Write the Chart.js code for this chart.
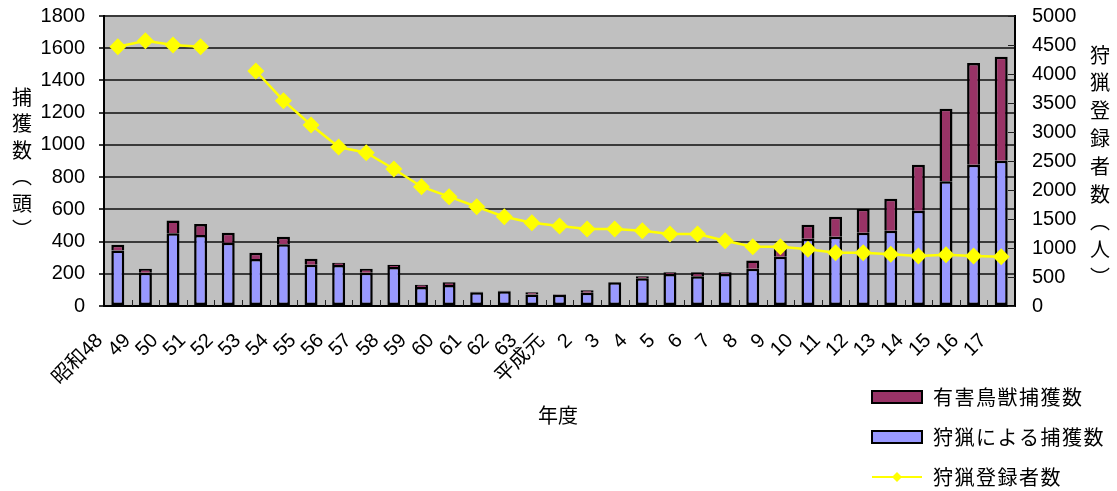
<!DOCTYPE html>
<html>
<head>
<meta charset="utf-8">
<script src="https://cdn.jsdelivr.net/npm/chart.js@4/dist/chart.umd.min.js"></script>
<style>
  html, body { margin: 0; padding: 0; background: #fff; }
  canvas { display: block; }
</style>
</head>
<body>
<canvas id="c" width="1117" height="491"></canvas>
<script>
// 年度
const years = ['昭和48','49','50','51','52','53','54','55','56','57','58','59','60','61','62','63',
  '平成元','2','3','4','5','6','7','8','9','10','11','12','13','14','15','16','17'];

// 狩猟による捕獲数（頭）
const huntingCatch = [345,207,451,440,393,292,383,256,255,207,242,118,130,85,92,72,
  70,82,147,172,198,185,198,231,306,418,430,455,467,591,775,877,901];

// 有害鳥獣捕獲数（頭）
const pestCatch = [35,24,80,69,62,39,47,37,14,24,14,14,17,3,3,13,
  3,15,0,12,11,25,11,52,50,87,124,149,199,286,449,632,646];

// 狩猟登録者数（人）
const registeredHunters = [4471,4574,4500,4471,null,4052,3540,3121,2741,2643,2362,2057,1885,1712,1540,1437,
  1379,1328,1328,1298,1241,1241,1126,1022,1022,978,919,919,891,862,884,862,850];

// 軸の範囲
const catchAxis = { min: 0, max: 1800, step: 200 };
const hunterAxis = { min: 0, max: 5000, step: 500 };

const legendItems = ['有害鳥獣捕獲数', '狩猟による捕獲数', '狩猟登録者数'];
const leftTitle = '捕獲数︵頭︶';
const rightTitle = '狩猟登録者数︵人︶';
const xTitle = '年度';

const BLUE = '#9999FF';
const PURPLE = '#993366';
const YELLOW = '#FFFF00';
const GRID = '#3a3a3a';
const NUM_FONT = "'Liberation Sans', 'Noto Sans CJK JP', sans-serif";
const JP_FONT = "'Noto Sans CJK JP', 'Liberation Sans', sans-serif";

// plain integers, no thousands separators
const plainNumber = v => String(v);
// keep the plot area exactly where the layout puts it
function noPad(s) { s.paddingTop = 0; s.paddingBottom = 0; }

const decor = {
  id: 'decor',
  beforeDraw(chart) {
    const { ctx, chartArea: a } = chart;
    ctx.save();
    ctx.fillStyle = '#C0C0C0';
    ctx.fillRect(a.left, a.top, a.right - a.left, a.bottom - a.top);
    ctx.restore();
  },
  afterDatasetsDraw(chart) {
    const { ctx, chartArea: a, scales } = chart;
    ctx.save();
    ctx.strokeStyle = '#202020';
    ctx.lineWidth = 1;
    // short inward ticks between the categories
    const x = scales.x;
    for (let i = 1; i < years.length; i++) {
      const px = Math.round(x.getPixelForValue(i - 0.5)) + 0.5;
      ctx.beginPath();
      ctx.moveTo(px, a.bottom);
      ctx.lineTo(px, a.bottom - 6);
      ctx.stroke();
    }
    // short inward ticks on the right axis
    const y1 = scales.y1;
    for (let v = hunterAxis.min; v <= hunterAxis.max; v += hunterAxis.step) {
      const py = Math.round(y1.getPixelForValue(v)) + 0.5;
      ctx.beginPath();
      ctx.moveTo(a.right, py);
      ctx.lineTo(a.right - 7, py);
      ctx.stroke();
    }
    ctx.restore();
  },
  afterDraw(chart) {
    const { ctx } = chart;
    ctx.save();
    ctx.fillStyle = '#000';
    ctx.textAlign = 'center';
    ctx.textBaseline = 'middle';
    ctx.font = '20px ' + JP_FONT;
    // vertical axis titles
    Array.from(leftTitle).forEach((ch, i) => ctx.fillText(ch, 22, 97 + i * 26.5));
    Array.from(rightTitle).forEach((ch, i) => ctx.fillText(ch, 1100, 55 + i * 27.8));
    // x axis title
    ctx.fillText(xTitle, 558, 415);

    // legend
    const lx = 872, lw = 50, tx = 933;
    const ys = [397, 437, 477];
    ctx.textAlign = 'left';
    [PURPLE, BLUE].forEach((c, i) => {
      ctx.fillStyle = c;
      ctx.fillRect(lx, ys[i] - 6, lw, 12);
      ctx.strokeStyle = '#000';
      ctx.lineWidth = 2;
      ctx.strokeRect(lx, ys[i] - 6, lw, 12);
    });
    ctx.strokeStyle = YELLOW;
    ctx.lineWidth = 2;
    ctx.beginPath();
    ctx.moveTo(lx, ys[2]);
    ctx.lineTo(lx + lw, ys[2]);
    ctx.stroke();
    ctx.fillStyle = YELLOW;
    ctx.beginPath();
    const cx = lx + lw / 2, r = 5;
    ctx.moveTo(cx, ys[2] - r);
    ctx.lineTo(cx + r, ys[2]);
    ctx.lineTo(cx, ys[2] + r);
    ctx.lineTo(cx - r, ys[2]);
    ctx.closePath();
    ctx.fill();
    ctx.fillStyle = '#000';
    ctx.font = '20px ' + JP_FONT;
    if ('letterSpacing' in ctx) ctx.letterSpacing = '1.5px';
    legendItems.forEach((t, i) => ctx.fillText(t, tx, ys[i]));
    ctx.restore();
  }
};

new Chart(document.getElementById('c'), {
  type: 'bar',
  data: {
    labels: years,
    datasets: [
      {
        label: legendItems[1],
        data: huntingCatch,
        backgroundColor: BLUE,
        borderColor: '#000',
        borderWidth: 2.5,
        borderSkipped: false,
        stack: 'catch',
        yAxisID: 'y',
        order: 1,
        barPercentage: 0.47,
        categoryPercentage: 1
      },
      {
        label: legendItems[0],
        data: pestCatch,
        backgroundColor: PURPLE,
        borderColor: '#000',
        borderWidth: 2.5,
        borderSkipped: 'bottom',
        stack: 'catch',
        yAxisID: 'y',
        order: 1,
        barPercentage: 0.47,
        categoryPercentage: 1
      },
      {
        type: 'line',
        label: legendItems[2],
        data: registeredHunters,
        yAxisID: 'y1',
        borderColor: YELLOW,
        borderWidth: 2.5,
        backgroundColor: YELLOW,
        pointStyle: 'rectRot',
        pointRadius: 8.5,
        pointBorderWidth: 0,
        pointBackgroundColor: YELLOW,
        spanGaps: false,
        tension: 0,
        order: 0
      }
    ]
  },
  options: {
    responsive: false,
    animation: false,
    devicePixelRatio: 1,
    layout: { padding: { top: 16, left: 0, right: 0, bottom: 0 } },
    plugins: { legend: { display: false }, tooltip: { enabled: false } },
    scales: {
      x: {
        stacked: true,
        offset: true,
        afterFit(s) { s.height = 185; },
        grid: { display: false, drawOnChartArea: false, drawTicks: false },
        border: { display: true, color: '#000', width: 2 },
        ticks: {
          autoSkip: false,
          minRotation: 45,
          maxRotation: 45,
          padding: 23,
          labelOffset: -18,
          color: '#000',
          font: { family: NUM_FONT, size: 20 }
        }
      },
      y: {
        position: 'left',
        stacked: true,
        min: catchAxis.min,
        max: catchAxis.max,
        afterFit(s) { s.width = 104; noPad(s); },
        grid: { display: true, drawOnChartArea: true, color: GRID, lineWidth: 2, tickLength: 5 },
        border: { color: '#000', width: 2 },
        ticks: {
          stepSize: catchAxis.step,
          padding: 14,
          color: '#000',
          callback: plainNumber,
          font: { family: NUM_FONT, size: 20 }
        }
      },
      y1: {
        position: 'right',
        min: hunterAxis.min,
        max: hunterAxis.max,
        afterFit(s) { s.width = 102; noPad(s); },
        grid: { drawOnChartArea: false, drawTicks: false },
        border: { color: '#000', width: 2 },
        ticks: {
          stepSize: hunterAxis.step,
          padding: 17,
          color: '#000',
          callback: plainNumber,
          font: { family: NUM_FONT, size: 20 }
        }
      }
    }
  },
  plugins: [decor]
});
</script>
</body>
</html>
